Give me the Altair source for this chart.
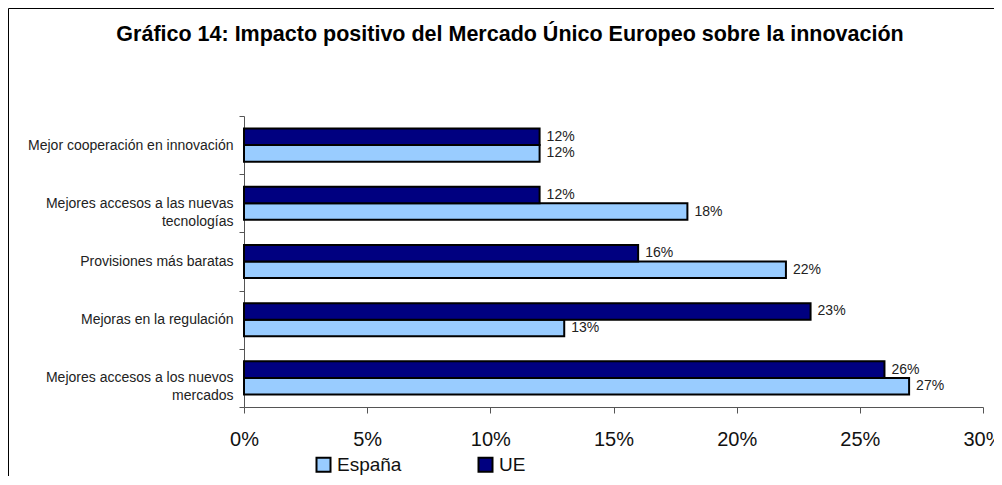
import altair as alt
import pandas as pd

categories = [
    "Mejor cooperación en innovación",
    "Mejores accesos a las nuevas tecnologías",
    "Provisiones más baratas",
    "Mejoras en la regulación",
    "Mejores accesos a los nuevos mercados",
]
espana = [0.12, 0.18, 0.22, 0.13, 0.27]
ue = [0.12, 0.12, 0.16, 0.23, 0.26]
series = ["España", "UE"]
colors = ["#99CCFF", "#000080"]
x_ticks = [0, 0.05, 0.10, 0.15, 0.20, 0.25, 0.30]
title_text = "Gráfico 14: Impacto positivo del Mercado Único Europeo sobre la innovación"

rows = []
for c, e, u in zip(categories, espana, ue):
    rows.append({"cat": c, "serie": "España", "val": e})
    rows.append({"cat": c, "serie": "UE", "val": u})
df = pd.DataFrame(rows)

FONT = "Liberation Sans"
NB = "\u00a0"
label_expr = (
    "datum.label == 'Mejores accesos a las nuevas tecnologías' ? "
    "['Mejores accesos a las nuevas', 'tecnologías" + NB * 15 + "'] : "
    "datum.label == 'Mejores accesos a los nuevos mercados' ? "
    "['Mejores accesos a los nuevos', 'mercados" + NB * 16 + "'] : datum.label"
)

y_enc = alt.Y(
    "cat:N",
    sort=categories,
    scale=alt.Scale(paddingInner=0, paddingOuter=0),
    axis=alt.Axis(
        title=None,
        tickBand="extent",
        labelExpr=label_expr,
        labelFont=FONT,
        labelFontSize=14,
        labelColor="#222222",
        labelPadding=6,
        labelLimit=400,
        tickSize=5,
        tickColor="#555555",
        domainColor="#555555",
        labelLineHeight=18,
    ),
)
yoff = alt.YOffset(
    "serie:N",
    scale=alt.Scale(domain=["UE", "España"], paddingInner=0, paddingOuter=0.76),
)
x_enc = alt.X(
    "val:Q",
    scale=alt.Scale(domain=[0, 0.3], nice=False),
    axis=alt.Axis(
        title=None,
        values=x_ticks,
        format=".0%",
        labelFont=FONT,
        labelFontSize=20,
        labelColor="#111111",
        labelPadding=16,
        labelFlush=False,
        tickSize=6,
        tickColor="#555555",
        domainColor="#555555",
        grid=False,
    ),
)

bars = alt.Chart(df).mark_bar(stroke="black", strokeWidth=2).encode(
    y=y_enc,
    yOffset=yoff,
    x=x_enc,
    color=alt.Color(
        "serie:N",
        scale=alt.Scale(domain=series, range=colors),
        legend=alt.Legend(
            title=None,
            orient="none",
            legendX=70,
            legendY=339,
            direction="horizontal",
            symbolType="square",
            symbolSize=196,
            symbolStrokeColor="black",
            symbolStrokeWidth=2,
            symbolOpacity=1,
            labelFont=FONT,
            labelFontSize=19,
            labelColor="#111111",
            columnPadding=72,
            labelOffset=4,
        ),
    ),
)

labels = alt.Chart(df).mark_text(
    align="left", baseline="middle", dx=7, font=FONT, fontSize=14, color="#222222"
).encode(
    y=alt.Y("cat:N", sort=categories),
    yOffset=alt.YOffset("serie:N", scale=alt.Scale(domain=["UE", "España"])),
    x=alt.X("val:Q"),
    text=alt.Text("val:Q", format=".0%"),
)

title = alt.Chart(pd.DataFrame({"t": [title_text]})).mark_text(
    align="center", baseline="alphabetic", font=FONT, fontSize=21.5,
    fontWeight="bold", color="black",
).encode(x=alt.value(266), y=alt.value(-75.5), text="t:N")

border = alt.Chart(pd.DataFrame({"a": [0]})).mark_rect(
    filled=False, stroke="black", strokeWidth=1
).encode(
    x=alt.value(-235.5), x2=alt.value(800),
    y=alt.value(-107.5), y2=alt.value(420),
)

chart = alt.layer(border, title, bars, labels).properties(
    width=739,
    height=291,
    padding={"left": 236, "top": 108, "right": 11, "bottom": 69},
    autosize=alt.AutoSizeParams(type="none"),
    background="white",
).configure_view(stroke=None)

chart.save("out.html", embed_options={"renderer": "svg", "actions": False})
